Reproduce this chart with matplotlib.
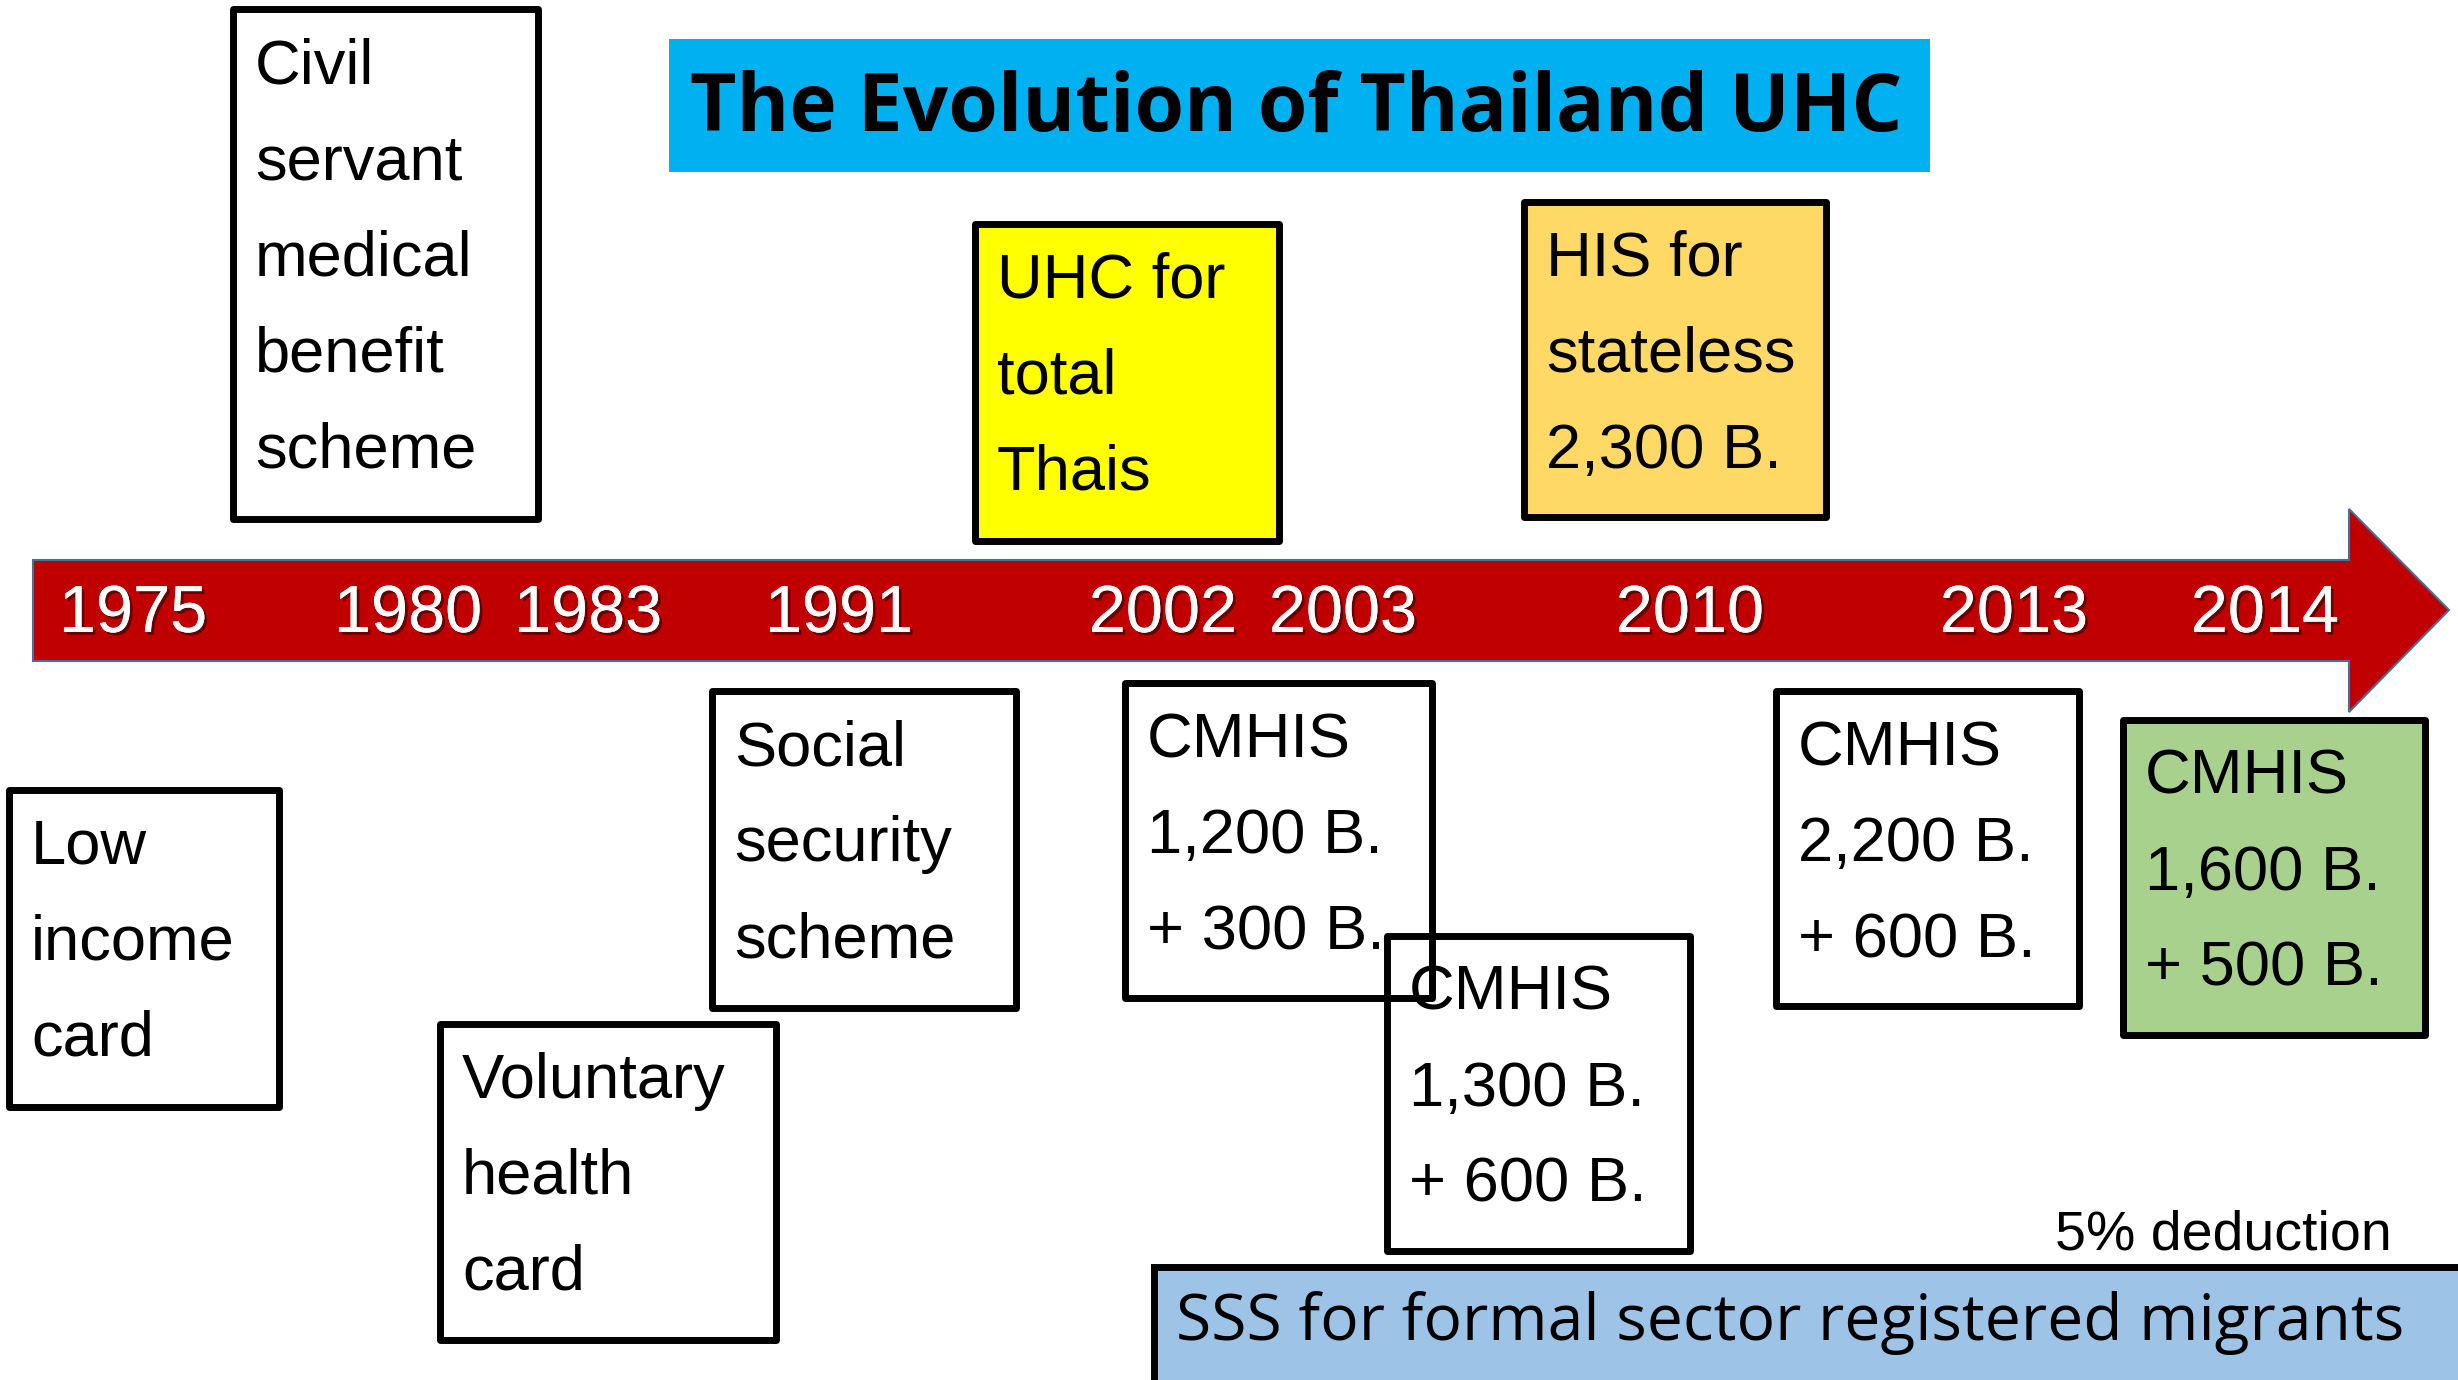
import matplotlib
matplotlib.use("Agg")
import matplotlib.pyplot as plt
from matplotlib.patches import Rectangle, Polygon
import matplotlib.patheffects as pe

# ---------------- data ----------------
title = "The Evolution of Thailand UHC"
years = ["1975", "1980", "1983", "1991", "2002", "2003", "2010", "2013", "2014"]
box_texts = [
    ["Civil", "servant", "medical", "benefit", "scheme"],
    ["UHC for", "total", "Thais"],
    ["HIS for", "stateless", "2,300 B."],
    ["Low", "income", "card"],
    ["Voluntary", "health", "card"],
    ["Social", "security", "scheme"],
    ["CMHIS", "1,300 B.", "+ 600 B."],
    ["CMHIS", "1,200 B.", "+ 300 B."],
    ["CMHIS", "2,200 B.", "+ 600 B."],
    ["CMHIS", "1,600 B.", "+ 500 B."],
]
box_colors = ["none", "#FFFF00", "#FFD966", "none", "none", "none",
              "none", "none", "none", "#A9D18E"]
note_text = "5% deduction"
sss_text = "SSS for formal sector registered migrants"

# ---------------- layout (pixel coordinates) ----------------
W, H = 2458, 1380
year_x = [133, 408, 588, 839, 1163, 1343, 1690, 2014, 2265]
year_base = 632
box_rects = [  # x0, y0, x1, y1
    (233, 9, 538, 519),
    (975, 224, 1279, 541),
    (1524, 202, 1826, 517),
    (9, 790, 279, 1107),
    (440, 1024, 776, 1340),
    (712, 691, 1016, 1008),
    (1387, 936, 1690, 1251),
    (1125, 683, 1432, 998),
    (1776, 691, 2079, 1006),
    (2123, 720, 2425, 1035),
]

fig = plt.figure(figsize=(W / 100, H / 100), dpi=100)
ax = fig.add_axes([0, 0, 1, 1])
ax.set_xlim(0, W)
ax.set_ylim(H, 0)
ax.axis("off")
fig.patch.set_facecolor("white")
renderer = fig.canvas.get_renderer()


def fit_text(x, y, s, target_w, family, weight="normal", fs=60, ha="center"):
    t = ax.text(x, y, s, fontsize=fs, family=family, weight=weight,
                ha=ha, va="baseline", color="black", zorder=6)
    w = t.get_window_extent(renderer=renderer).width
    t.set_fontsize(fs * target_w / w)
    return t


# title
ax.add_patch(Rectangle((669, 39), 1930 - 669, 172 - 39, facecolor="#00B0F0",
                       edgecolor="none", zorder=2))
fit_text(1296, 131, title, 1212, "Open Sans", weight="bold")

# arrow
arrow_pts = [(33, 560), (2349, 560), (2349, 509), (2449, 610),
             (2349, 712), (2349, 661), (33, 661)]
ax.add_patch(Polygon(arrow_pts, closed=True, facecolor="#C00000",
                     edgecolor="#41719C", linewidth=1.5, zorder=3))
shadow = [pe.withSimplePatchShadow(offset=(2, -2), shadow_rgbFace="black", alpha=0.45),
          pe.Normal()]
for yx, lab in zip(year_x, years):
    ax.text(yx, year_base, lab, fontsize=48, family="Liberation Sans",
            color="white", ha="center", va="baseline", zorder=5,
            path_effects=shadow)

# boxes
line_gap = 96
for (x0, y0, x1, y1), lines, col in zip(box_rects, box_texts, box_colors):
    ax.add_patch(Rectangle((x0, y0), x1 - x0, y1 - y0, facecolor=col,
                           edgecolor="black", linewidth=5, joinstyle="round",
                           zorder=4))
    for i, ln in enumerate(lines):
        ax.text(x0 + 22, y0 + 74 + i * line_gap, ln, fontsize=45.5,
                family="Liberation Sans", color="black", ha="left",
                va="baseline", zorder=6)

# note
ax.text(2392, 1249, note_text, fontsize=40, family="Liberation Sans",
        color="black", ha="right", va="baseline", zorder=6)

# SSS bar
ax.add_patch(Rectangle((1154, 1267), 1400, 200, facecolor="#9DC3E6",
                       edgecolor="black", linewidth=5, zorder=4))
fit_text(1176, 1340, sss_text, 1226, "Open Sans", ha="left")

fig.savefig("out.png", dpi=100, facecolor="white")
